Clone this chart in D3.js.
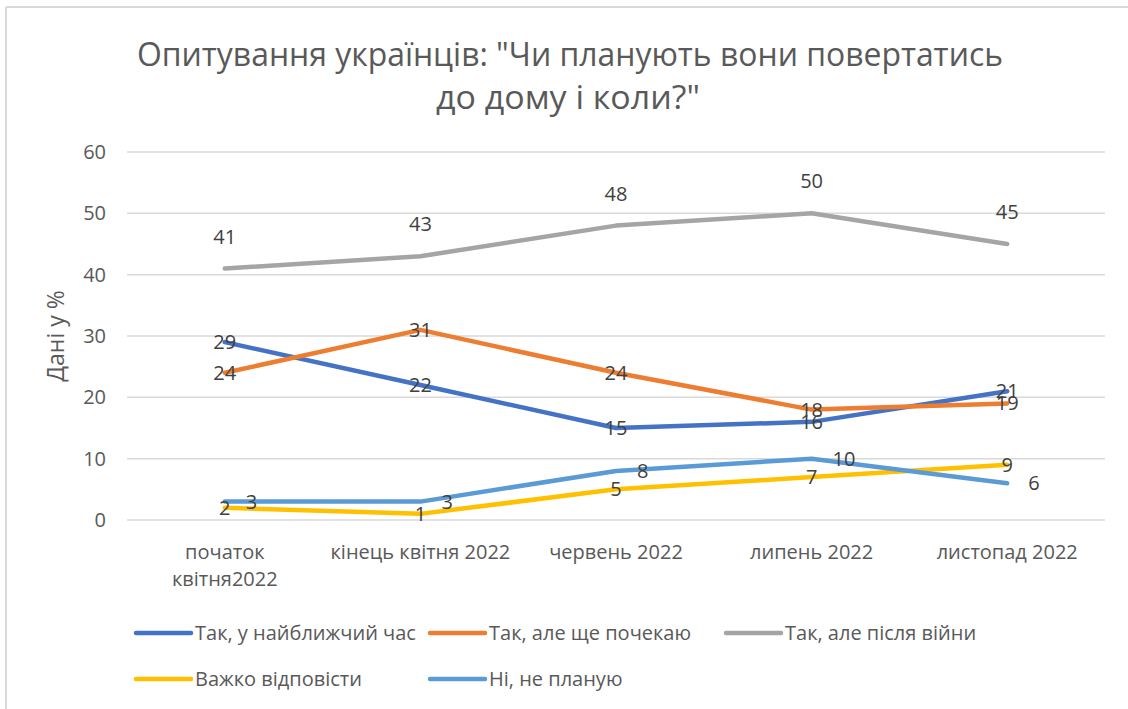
<!DOCTYPE html>
<html>
<head>
<meta charset="utf-8">
<script src="https://cdn.jsdelivr.net/npm/d3@7"></script>
<style>
  body { margin: 0; background: #fff; }
  text { font-family: "Open Sans", "DejaVu Sans", sans-serif; }
</style>
</head>
<body>
<svg id="chart" width="1128" height="709"></svg>
<script>
// data
var categories = ['початок квітня2022', 'кінець квітня 2022', 'червень 2022', 'липень 2022', 'листопад 2022'];
var seriesNames = ['Так, у найближчий час', 'Так, але ще почекаю', 'Так, але після війни', 'Важко відповісти', 'Ні, не планую'];
var soonValues  = [29, 22, 15, 16, 21];
var waitValues  = [24, 31, 24, 18, 19];
var afterValues = [41, 43, 48, 50, 45];
var hardValues  = [2, 1, 5, 7, 9];
var noValues    = [3, 3, 8, 10, 6];
var yTicks = [0, 10, 20, 30, 40, 50, 60];

var colors = ['#4472C4', '#ED7D31', '#A5A5A5', '#FFC000', '#5B9BD5'];
// where each series puts its data labels
var labelPos = ['center', 'center', 'above', 'center', 'right'];

var allValues = [soonValues, waitValues, afterValues, hardValues, noValues];

var svg = d3.select('#chart');
var margin = {left: 127, right: 1105, top: 152, bottom: 520};

// chart frame (only top + left edges show)
svg.append('line').attr('x1', 6).attr('x2', 1128).attr('y1', 7).attr('y2', 7)
   .attr('stroke', '#d9d9d9').attr('stroke-width', 2);
svg.append('line').attr('x1', 6).attr('x2', 6).attr('y1', 7).attr('y2', 709)
   .attr('stroke', '#d9d9d9').attr('stroke-width', 2);

// title
svg.append('text').attr('x', 570).attr('y', 66).attr('text-anchor', 'middle')
   .attr('font-size', 32).attr('fill', '#595959')
   .attr('textLength', 866).attr('lengthAdjust', 'spacingAndGlyphs')
   .text('Опитування українців: "Чи планують вони повертатись');
svg.append('text').attr('x', 568).attr('y', 109).attr('text-anchor', 'middle')
   .attr('font-size', 32).attr('fill', '#595959')
   .attr('textLength', 264).attr('lengthAdjust', 'spacingAndGlyphs')
   .text('до дому і коли?"');

var x = d3.scaleBand().domain(categories).range([margin.left, margin.right]);
var y = d3.scaleLinear().domain([0, 60]).range([margin.bottom, margin.top]);

// gridlines
svg.append('g').selectAll('line').data(yTicks).enter().append('line')
   .attr('x1', margin.left).attr('x2', margin.right)
   .attr('y1', function(d){ return y(d); }).attr('y2', function(d){ return y(d); })
   .attr('stroke', '#d9d9d9').attr('stroke-width', 1.5);

// y axis labels
var yAxis = svg.append('g').attr('transform', 'translate(' + (margin.left - 21) + ',0)')
   .call(d3.axisLeft(y).tickValues(yTicks).tickSize(0).tickPadding(0));
yAxis.select('.domain').remove();
yAxis.selectAll('text').attr('font-size', 20).attr('fill', '#595959')
   .attr('font-family', '"Open Sans", sans-serif');

svg.append('text')
   .attr('transform', 'translate(64,' + ((margin.top + margin.bottom) / 2) + ') rotate(-90)')
   .attr('text-anchor', 'middle').attr('font-size', 23).attr('fill', '#595959')
   .text('Дані у %');

// x axis labels
var xAxis = svg.append('g').attr('transform', 'translate(0,' + margin.bottom + ')')
   .call(d3.axisBottom(x).tickSize(0).tickPadding(0));
xAxis.select('.domain').remove();
xAxis.selectAll('text').remove();
xAxis.selectAll('.tick').each(function(d){
  var t = d3.select(this).append('text').attr('text-anchor', 'middle')
     .attr('font-size', 20).attr('fill', '#595959').attr('font-family', '"Open Sans", sans-serif');
  if (d === 'початок квітня2022') {
    t.append('tspan').attr('x', 0).attr('y', 39).text('початок');
    t.append('tspan').attr('x', 0).attr('y', 66).text('квітня2022');
  } else {
    t.append('tspan').attr('x', 0).attr('y', 39).text(d);
  }
});

// lines
var line = d3.line()
   .x(function(d, i){ return x(categories[i]) + x.bandwidth() / 2; })
   .y(function(d){ return y(d); });

allValues.forEach(function(vals, s){
  svg.append('path').datum(vals)
     .attr('d', line).attr('fill', 'none')
     .attr('stroke', colors[s]).attr('stroke-width', 4.5)
     .attr('stroke-linecap', 'round').attr('stroke-linejoin', 'round');
});

// data labels
allValues.forEach(function(vals, s){
  svg.append('g').selectAll('text').data(vals).enter().append('text')
     .attr('x', function(d, i){
       var cx = x(categories[i]) + x.bandwidth() / 2;
       return labelPos[s] === 'right' ? cx + 21 : cx;
     })
     .attr('y', function(d){
       return labelPos[s] === 'above' ? y(d) - 25 : y(d) + 7;
     })
     .attr('text-anchor', function(){ return labelPos[s] === 'right' ? 'start' : 'middle'; })
     .attr('font-size', 20).attr('fill', '#404040')
     .text(function(d){ return d; });
});

// legend
var legendItems = [
  {x: 136, y: 633}, {x: 430, y: 633}, {x: 726, y: 633},
  {x: 136, y: 679}, {x: 430, y: 679}
];
var leg = svg.append('g').selectAll('g').data(seriesNames).enter().append('g')
   .attr('transform', function(d, i){ return 'translate(' + legendItems[i].x + ',' + legendItems[i].y + ')'; });
leg.append('line').attr('x1', 0).attr('x2', 55).attr('y1', 0).attr('y2', 0)
   .attr('stroke', function(d, i){ return colors[i]; }).attr('stroke-width', 4.5)
   .attr('stroke-linecap', 'round');
leg.append('text').attr('x', 59).attr('y', 7).attr('font-size', 20).attr('fill', '#595959')
   .text(function(d){ return d; });
</script>
</body>
</html>
